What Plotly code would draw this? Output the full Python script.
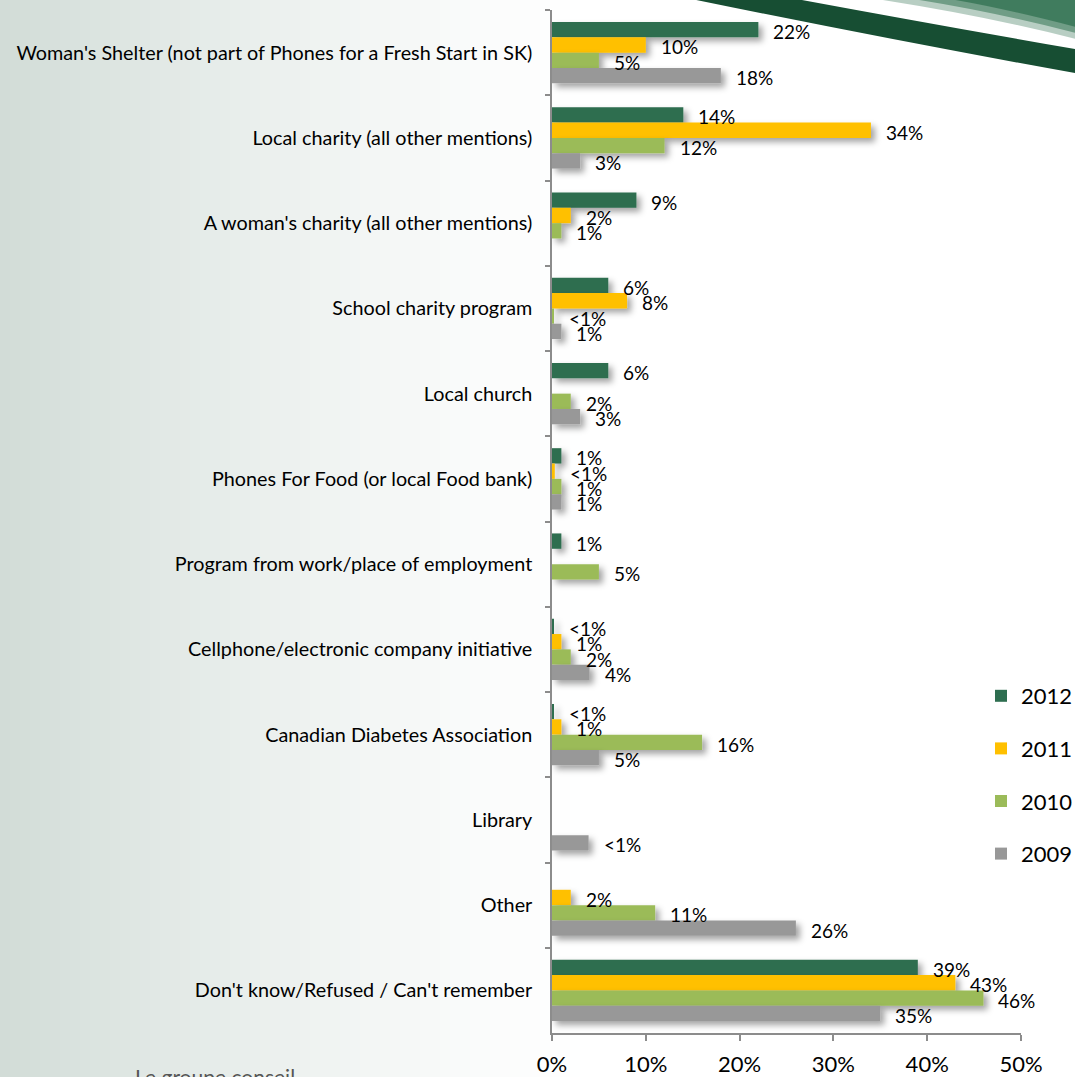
import plotly.graph_objects as go

# ---- data -------------------------------------------------------------
categories = [
    "Woman's Shelter (not part of Phones for a Fresh Start in SK)",
    "Local charity (all other mentions)",
    "A woman's charity (all other mentions)",
    "School charity program",
    "Local church",
    "Phones For Food (or local Food bank)",
    "Program from work/place of employment",
    "Cellphone/electronic company initiative",
    "Canadian Diabetes Association",
    "Library",
    "Other",
    "Don't know/Refused / Can't remember",
]

years = ["2012", "2011", "2010", "2009"]

values_2012 = [22, 14, 9, 6, 6, 1, 1, 0.2, 0.2, None, None, 39]
values_2011 = [10, 34, 2, 8, None, 0.3, None, 1, 1, None, 2, 43]
values_2010 = [5, 12, 1, 0.2, 2, 1, 5, 2, 16, None, 11, 46]
values_2009 = [18, 3, None, 1, 3, 1, None, 4, 5, 3.9, 26, 35]

labels_2012 = ["22%", "14%", "9%", "6%", "6%", "1%", "1%", "<1%", "<1%", "", "", "39%"]
labels_2011 = ["10%", "34%", "2%", "8%", "", "<1%", "", "1%", "1%", "", "2%", "43%"]
labels_2010 = ["5%", "12%", "1%", "<1%", "2%", "1%", "5%", "2%", "16%", "", "11%", "46%"]
labels_2009 = ["18%", "3%", "", "1%", "3%", "1%", "", "4%", "5%", "<1%", "26%", "35%"]

x_ticks = [0, 10, 20, 30, 40, 50]
x_tick_labels = ["0%", "10%", "20%", "30%", "40%", "50%"]

series_values = [values_2012, values_2011, values_2010, values_2009]
series_labels = [labels_2012, labels_2011, labels_2010, labels_2009]
colors = ["#2E6E50", "#FFC000", "#9BBB59", "#989898"]

FONT = "Lato, 'Open Sans', sans-serif"
BARGAP = 0.28

# plot-area geometry in page pixels (used for the decorative background)
L, R, T, B = 552, 1021, 10, 1033
W, H = R - L, B - T


def px(x):
    return (x - L) / W


def py(y):
    return (B - y) / H


fig = go.Figure()

for k, (yr, vals, col) in enumerate(zip(years, series_values, colors)):
    fig.add_trace(go.Bar(
        name=yr,
        y=categories,
        x=vals,
        orientation="h",
        marker=dict(color=col, line=dict(width=0)),
        legendgroup=yr,
        hoverinfo="skip",
    ))

# value labels to the right of each bar
slot = (1 - BARGAP) / len(years)
annotations = []
for k, (vals, labs) in enumerate(zip(series_values, series_labels)):
    for i, (v, lab) in enumerate(zip(vals, labs)):
        if not lab or v is None:
            continue
        annotations.append(dict(
            x=v, y=i + (k - 1.5) * slot, xref="x", yref="y",
            text=lab, showarrow=False, xanchor="left", yanchor="middle",
            xshift=13, yshift=-2,
            font=dict(family=FONT, size=19, color="#000000"),
        ))

# footer brand text, partly below the page edge
annotations.append(dict(
    x=px(133), y=py(1076), xref="paper", yref="paper",
    text="Le groupe conseil", showarrow=False, xanchor="left", yanchor="middle",
    font=dict(family=FONT, size=21, color="#555555"),
))

# ---- decorative background ---------------------------------------------
shapes = []
# soft grey-green wash on the left side
n_strips = 60
x_end = 600
for s in range(n_strips):
    x0 = s * x_end / n_strips
    x1 = (s + 1) * x_end / n_strips + 0.5
    t = (s + 0.5) / n_strips
    w = (1 - t) ** 1.4
    r = int(round(255 - (255 - 209) * w))
    g = int(round(255 - (255 - 220) * w))
    b = int(round(255 - (255 - 215) * w))
    shapes.append(dict(
        type="rect", xref="paper", yref="paper",
        x0=px(x0 - (1 if s == 0 else 0)), x1=px(x1), y0=py(1100), y1=py(-20),
        fillcolor=f"rgb({r},{g},{b})", line=dict(width=0), layer="below",
    ))


def path_from(points_cmds):
    out = []
    for cmd, pts in points_cmds:
        coords = " ".join(f"{px(a):.5f},{py(b):.5f}" for a, b in pts)
        out.append(f"{cmd} {coords}")
    return " ".join(out) + " Z"


# lighter green sweep in the top-right corner
for alpha, yoff in [(0.35, 0), (0.55, -6), (0.8, -12)]:
    shapes.append(dict(
        type="path", xref="paper", yref="paper", layer="below",
        path=path_from([
            ("M", [(850 + (-yoff) * 6, -5)]),
            ("Q", [(980, 14 + yoff), (1080, 40 + yoff)]),
            ("L", [(1080, -5)]),
        ]),
        fillcolor=f"rgba(52,116,84,{alpha})", line=dict(width=0),
    ))

# dark green swoosh band
shapes.append(dict(
    type="path", xref="paper", yref="paper", layer="below",
    path=path_from([
        ("M", [(672, -5)]),
        ("Q", [(880, 38), (1080, 74)]),
        ("L", [(1080, 50)]),
        ("Q", [(920, 22), (775, -5)]),
    ]),
    fillcolor="#174E33", line=dict(width=0),
))

fig.update_layout(
    width=1075, height=1077,
    margin=dict(l=L, r=1075 - R, t=T, b=1077 - B, pad=0, autoexpand=False),
    paper_bgcolor="#ffffff",
    plot_bgcolor="rgba(0,0,0,0)",
    barmode="group",
    bargap=BARGAP,
    bargroupgap=0,
    font=dict(family=FONT, color="#000000"),
    showlegend=True,
    legend=dict(
        x=px(981), y=py(675), xanchor="left", yanchor="top",
        bgcolor="rgba(0,0,0,0)", borderwidth=0,
        font=dict(family=FONT, size=22, color="#000000"),
        traceorder="grouped", tracegroupgap=21,
        itemwidth=30,
    ),
    xaxis=dict(
        range=[0, 50], tickvals=x_ticks, ticktext=x_tick_labels,
        showgrid=False, zeroline=False, showline=True,
        linecolor="#8C8C8C", linewidth=1.5,
        ticks="outside", ticklen=6, tickwidth=1.5, tickcolor="#8C8C8C",
        ticklabelstandoff=5,
        tickfont=dict(family=FONT, size=22, color="#000000"),
        fixedrange=True,
    ),
    yaxis=dict(
        type="category", autorange="reversed",
        showgrid=False, zeroline=False, showline=True,
        linecolor="#8C8C8C", linewidth=1.5,
        ticks="outside", ticklen=5, tickwidth=1.5, tickcolor="#8C8C8C",
        tickson="boundaries", ticklabelstandoff=14,
        tickfont=dict(family=FONT, size=19.8, color="#000000"),
        fixedrange=True,
    ),
    annotations=annotations,
    shapes=shapes,
)

# soft drop shadow under the bars
shadow_js = """
var gd = document.getElementById('{plot_id}');
function addBarShadow() {
  var svg = gd.querySelector('svg.main-svg');
  if (!svg) return;
  var ns = 'http://www.w3.org/2000/svg';
  if (!document.getElementById('barshadow')) {
    var defs = svg.querySelector('defs') || svg.insertBefore(document.createElementNS(ns, 'defs'), svg.firstChild);
    var f = document.createElementNS(ns, 'filter');
    f.setAttribute('id', 'barshadow');
    f.setAttribute('filterUnits', 'userSpaceOnUse');
    f.setAttribute('x', '-200'); f.setAttribute('y', '-200');
    f.setAttribute('width', '2000'); f.setAttribute('height', '2000');
    var fe = document.createElementNS(ns, 'feDropShadow');
    fe.setAttribute('dx', '4'); fe.setAttribute('dy', '4');
    fe.setAttribute('stdDeviation', '3');
    fe.setAttribute('flood-color', '#000000');
    fe.setAttribute('flood-opacity', '0.36');
    f.appendChild(fe);
    defs.appendChild(f);
  }
  gd.querySelectorAll('.barlayer .point path').forEach(function (p) {
    p.setAttribute('filter', 'url(#barshadow)');
  });
}
addBarShadow();
gd.on('plotly_afterplot', addBarShadow);
"""

fig.write_html("out.html", post_script=shadow_js, config={"displayModeBar": False})
